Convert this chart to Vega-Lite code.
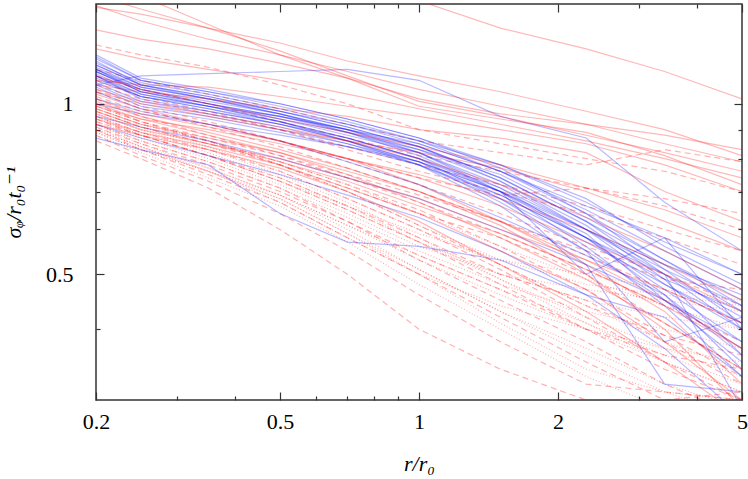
{
"$schema":"https://vega.github.io/schema/vega-lite/v6.json",
"width":646,"height":396,
"autosize":"none",
"padding":{"left":96,"top":4,"right":6,"bottom":79},
"background":"white",
"config":{"view":{"stroke":"#333333","strokeWidth":1.5},"font":"'Liberation Serif', 'DejaVu Serif', serif"},
"data":{"values":[
{"i":"b1","x":0.2,"y":1.17},{"i":"b1","x":0.25,"y":1.08},{"i":"b1","x":0.35,"y":1.03},{"i":"b1","x":0.5,"y":0.97},{"i":"b1","x":0.7,"y":0.91},{"i":"b1","x":1,"y":0.84},{"i":"b1","x":1.5,"y":0.74},{"i":"b1","x":2.3,"y":0.62},{"i":"b1","x":3.4,"y":0.52},{"i":"b1","x":5,"y":0.43},
{"i":"b2","x":0.2,"y":1.15},{"i":"b2","x":0.25,"y":1.05},{"i":"b2","x":0.35,"y":1.0},{"i":"b2","x":0.5,"y":0.95},{"i":"b2","x":0.7,"y":0.89},{"i":"b2","x":1,"y":0.82},{"i":"b2","x":1.5,"y":0.72},{"i":"b2","x":2.3,"y":0.6},{"i":"b2","x":3.4,"y":0.5},{"i":"b2","x":5,"y":0.4},
{"i":"b3","x":0.2,"y":1.2},{"i":"b3","x":0.25,"y":1.1},{"i":"b3","x":0.35,"y":1.05},{"i":"b3","x":0.5,"y":0.99},{"i":"b3","x":0.7,"y":0.93},{"i":"b3","x":1,"y":0.86},{"i":"b3","x":1.5,"y":0.76},{"i":"b3","x":2.3,"y":0.65},{"i":"b3","x":3.4,"y":0.55},{"i":"b3","x":5,"y":0.47},
{"i":"b4","x":0.2,"y":1.12},{"i":"b4","x":0.25,"y":1.02},{"i":"b4","x":0.35,"y":0.97},{"i":"b4","x":0.5,"y":0.92},{"i":"b4","x":0.7,"y":0.87},{"i":"b4","x":1,"y":0.8},{"i":"b4","x":1.5,"y":0.7},{"i":"b4","x":2.3,"y":0.58},{"i":"b4","x":3.4,"y":0.47},{"i":"b4","x":5,"y":0.38},
{"i":"b5","x":0.2,"y":1.08},{"i":"b5","x":0.25,"y":1.0},{"i":"b5","x":0.35,"y":0.96},{"i":"b5","x":0.5,"y":0.91},{"i":"b5","x":0.7,"y":0.85},{"i":"b5","x":1,"y":0.78},{"i":"b5","x":1.5,"y":0.68},{"i":"b5","x":2.3,"y":0.57},{"i":"b5","x":3.4,"y":0.48},{"i":"b5","x":5,"y":0.41},
{"i":"b6","x":0.2,"y":1.18},{"i":"b6","x":0.25,"y":1.09},{"i":"b6","x":0.35,"y":1.04},{"i":"b6","x":0.5,"y":0.98},{"i":"b6","x":0.7,"y":0.92},{"i":"b6","x":1,"y":0.85},{"i":"b6","x":1.5,"y":0.76},{"i":"b6","x":2.3,"y":0.64},{"i":"b6","x":3.4,"y":0.53},{"i":"b6","x":5,"y":0.45},
{"i":"b7","x":0.2,"y":1.14},{"i":"b7","x":0.25,"y":1.06},{"i":"b7","x":0.35,"y":1.01},{"i":"b7","x":0.5,"y":0.96},{"i":"b7","x":0.7,"y":0.9},{"i":"b7","x":1,"y":0.83},{"i":"b7","x":1.5,"y":0.73},{"i":"b7","x":2.3,"y":0.61},{"i":"b7","x":3.4,"y":0.49},{"i":"b7","x":5,"y":0.36},
{"i":"b8","x":0.2,"y":1.1},{"i":"b8","x":0.25,"y":1.03},{"i":"b8","x":0.35,"y":0.98},{"i":"b8","x":0.5,"y":0.93},{"i":"b8","x":0.7,"y":0.87},{"i":"b8","x":1,"y":0.8},{"i":"b8","x":1.5,"y":0.71},{"i":"b8","x":2.3,"y":0.6},{"i":"b8","x":3.4,"y":0.51},{"i":"b8","x":5,"y":0.44},
{"i":"b9","x":0.2,"y":1.16},{"i":"b9","x":0.25,"y":1.07},{"i":"b9","x":0.35,"y":1.02},{"i":"b9","x":0.5,"y":0.96},{"i":"b9","x":0.7,"y":0.9},{"i":"b9","x":1,"y":0.82},{"i":"b9","x":1.5,"y":0.71},{"i":"b9","x":2.3,"y":0.58},{"i":"b9","x":3.4,"y":0.46},{"i":"b9","x":5,"y":0.34},
{"i":"b10","x":0.2,"y":1.05},{"i":"b10","x":0.25,"y":0.98},{"i":"b10","x":0.35,"y":0.94},{"i":"b10","x":0.5,"y":0.89},{"i":"b10","x":0.7,"y":0.84},{"i":"b10","x":1,"y":0.78},{"i":"b10","x":1.5,"y":0.69},{"i":"b10","x":2.3,"y":0.58},{"i":"b10","x":3.4,"y":0.5},{"i":"b10","x":5,"y":0.42},
{"i":"b11","x":0.2,"y":1.08},{"i":"b11","x":0.25,"y":1.12},{"i":"b11","x":0.35,"y":1.13},{"i":"b11","x":0.5,"y":1.14},{"i":"b11","x":0.7,"y":1.15},{"i":"b11","x":1,"y":1.1},{"i":"b11","x":1.5,"y":0.95},{"i":"b11","x":2.3,"y":0.87},{"i":"b11","x":3.4,"y":0.67},{"i":"b11","x":5,"y":0.55},
{"i":"b12","x":0.2,"y":0.87},{"i":"b12","x":0.25,"y":0.83},{"i":"b12","x":0.35,"y":0.78},{"i":"b12","x":0.5,"y":0.64},{"i":"b12","x":0.7,"y":0.57},{"i":"b12","x":1,"y":0.56},{"i":"b12","x":1.5,"y":0.53},{"i":"b12","x":2.3,"y":0.46},{"i":"b12","x":3.4,"y":0.42},{"i":"b12","x":5,"y":0.33},
{"i":"b13","x":0.2,"y":1.12},{"i":"b13","x":0.25,"y":1.04},{"i":"b13","x":0.35,"y":0.99},{"i":"b13","x":0.5,"y":0.93},{"i":"b13","x":0.7,"y":0.86},{"i":"b13","x":1,"y":0.78},{"i":"b13","x":1.5,"y":0.66},{"i":"b13","x":2.3,"y":0.52},{"i":"b13","x":3.4,"y":0.32},{"i":"b13","x":5,"y":0.31},
{"i":"b14","x":0.2,"y":1.15},{"i":"b14","x":0.25,"y":1.06},{"i":"b14","x":0.35,"y":1.0},{"i":"b14","x":0.5,"y":0.94},{"i":"b14","x":0.7,"y":0.88},{"i":"b14","x":1,"y":0.82},{"i":"b14","x":1.5,"y":0.7},{"i":"b14","x":2.3,"y":0.5},{"i":"b14","x":3.4,"y":0.58},{"i":"b14","x":5,"y":0.4},
{"i":"b15","x":0.2,"y":1.09},{"i":"b15","x":0.25,"y":1.01},{"i":"b15","x":0.35,"y":0.97},{"i":"b15","x":0.5,"y":0.92},{"i":"b15","x":0.7,"y":0.86},{"i":"b15","x":1,"y":0.79},{"i":"b15","x":1.5,"y":0.67},{"i":"b15","x":2.3,"y":0.55},{"i":"b15","x":3.4,"y":0.38},{"i":"b15","x":5,"y":0.42},
{"i":"b16","x":0.2,"y":1.21},{"i":"b16","x":0.25,"y":1.1},{"i":"b16","x":0.35,"y":1.05},{"i":"b16","x":0.5,"y":1.0},{"i":"b16","x":0.7,"y":0.94},{"i":"b16","x":1,"y":0.87},{"i":"b16","x":1.5,"y":0.78},{"i":"b16","x":2.3,"y":0.67},{"i":"b16","x":3.4,"y":0.57},{"i":"b16","x":5,"y":0.5},
{"i":"b17","x":0.2,"y":1.14},{"i":"b17","x":0.25,"y":1.05},{"i":"b17","x":0.35,"y":0.99},{"i":"b17","x":0.5,"y":0.93},{"i":"b17","x":0.7,"y":0.87},{"i":"b17","x":1,"y":0.8},{"i":"b17","x":1.5,"y":0.68},{"i":"b17","x":2.3,"y":0.55},{"i":"b17","x":3.4,"y":0.45},{"i":"b17","x":5,"y":0.37},
{"i":"b18","x":0.2,"y":1.07},{"i":"b18","x":0.25,"y":0.99},{"i":"b18","x":0.35,"y":0.95},{"i":"b18","x":0.5,"y":0.9},{"i":"b18","x":0.7,"y":0.85},{"i":"b18","x":1,"y":0.79},{"i":"b18","x":1.5,"y":0.7},{"i":"b18","x":2.3,"y":0.6},{"i":"b18","x":3.4,"y":0.52},{"i":"b18","x":5,"y":0.46},
{"i":"b19","x":0.2,"y":1.17},{"i":"b19","x":0.25,"y":1.08},{"i":"b19","x":0.35,"y":1.03},{"i":"b19","x":0.5,"y":0.97},{"i":"b19","x":0.7,"y":0.91},{"i":"b19","x":1,"y":0.84},{"i":"b19","x":1.5,"y":0.73},{"i":"b19","x":2.3,"y":0.6},{"i":"b19","x":3.4,"y":0.48},{"i":"b19","x":5,"y":0.4},
{"i":"b20","x":0.2,"y":0.95},{"i":"b20","x":0.25,"y":0.91},{"i":"b20","x":0.35,"y":0.86},{"i":"b20","x":0.5,"y":0.8},{"i":"b20","x":0.7,"y":0.74},{"i":"b20","x":1,"y":0.68},{"i":"b20","x":1.5,"y":0.6},{"i":"b20","x":2.3,"y":0.52},{"i":"b20","x":3.4,"y":0.45},{"i":"b20","x":5,"y":0.38},
{"i":"b21","x":0.2,"y":1.13},{"i":"b21","x":0.25,"y":1.04},{"i":"b21","x":0.35,"y":0.99},{"i":"b21","x":0.5,"y":0.94},{"i":"b21","x":0.7,"y":0.89},{"i":"b21","x":1,"y":0.83},{"i":"b21","x":1.5,"y":0.75},{"i":"b21","x":2.3,"y":0.63},{"i":"b21","x":3.4,"y":0.53},{"i":"b21","x":5,"y":0.44},
{"i":"b22","x":0.2,"y":1.19},{"i":"b22","x":0.25,"y":1.08},{"i":"b22","x":0.35,"y":1.02},{"i":"b22","x":0.5,"y":0.96},{"i":"b22","x":0.7,"y":0.89},{"i":"b22","x":1,"y":0.81},{"i":"b22","x":1.5,"y":0.7},{"i":"b22","x":2.3,"y":0.56},{"i":"b22","x":3.4,"y":0.44},{"i":"b22","x":5,"y":0.33},
{"i":"b23","x":0.2,"y":1.02},{"i":"b23","x":0.25,"y":0.97},{"i":"b23","x":0.35,"y":0.92},{"i":"b23","x":0.5,"y":0.86},{"i":"b23","x":0.7,"y":0.79},{"i":"b23","x":1,"y":0.72},{"i":"b23","x":1.5,"y":0.63},{"i":"b23","x":2.3,"y":0.54},{"i":"b23","x":3.4,"y":0.46},{"i":"b23","x":5,"y":0.36},
{"i":"b24","x":0.2,"y":1.11},{"i":"b24","x":0.25,"y":1.03},{"i":"b24","x":0.35,"y":0.99},{"i":"b24","x":0.5,"y":0.95},{"i":"b24","x":0.7,"y":0.9},{"i":"b24","x":1,"y":0.85},{"i":"b24","x":1.5,"y":0.76},{"i":"b24","x":2.3,"y":0.66},{"i":"b24","x":3.4,"y":0.58},{"i":"b24","x":5,"y":0.5},
{"i":"b25","x":0.2,"y":0.92},{"i":"b25","x":0.25,"y":0.87},{"i":"b25","x":0.35,"y":0.81},{"i":"b25","x":0.5,"y":0.75},{"i":"b25","x":0.7,"y":0.69},{"i":"b25","x":1,"y":0.63},{"i":"b25","x":1.5,"y":0.55},{"i":"b25","x":2.3,"y":0.46},{"i":"b25","x":3.4,"y":0.37},{"i":"b25","x":5,"y":0.28},
{"i":"b26","x":0.2,"y":1.14},{"i":"b26","x":0.25,"y":1.05},{"i":"b26","x":0.35,"y":1.0},{"i":"b26","x":0.5,"y":0.95},{"i":"b26","x":0.7,"y":0.9},{"i":"b26","x":1,"y":0.84},{"i":"b26","x":1.5,"y":0.74},{"i":"b26","x":2.3,"y":0.62},{"i":"b26","x":3.4,"y":0.5},{"i":"b26","x":5,"y":0.29},
{"i":"b27","x":0.2,"y":1.0},{"i":"b27","x":0.25,"y":0.96},{"i":"b27","x":0.35,"y":0.92},{"i":"b27","x":0.5,"y":0.88},{"i":"b27","x":0.7,"y":0.84},{"i":"b27","x":1,"y":0.79},{"i":"b27","x":1.5,"y":0.7},{"i":"b27","x":2.3,"y":0.59},{"i":"b27","x":3.4,"y":0.45},{"i":"b27","x":5,"y":0.35},
{"i":"b28","x":0.2,"y":1.15},{"i":"b28","x":0.25,"y":1.07},{"i":"b28","x":0.35,"y":1.02},{"i":"b28","x":0.5,"y":0.97},{"i":"b28","x":0.7,"y":0.92},{"i":"b28","x":1,"y":0.86},{"i":"b28","x":1.5,"y":0.78},{"i":"b28","x":2.3,"y":0.68},{"i":"b28","x":3.4,"y":0.56},{"i":"b28","x":5,"y":0.48},
{"i":"b29","x":0.2,"y":1.22},{"i":"b29","x":0.25,"y":1.11},{"i":"b29","x":0.35,"y":1.06},{"i":"b29","x":0.5,"y":1.0},{"i":"b29","x":0.7,"y":0.94},{"i":"b29","x":1,"y":0.87},{"i":"b29","x":1.5,"y":0.77},{"i":"b29","x":2.3,"y":0.64},{"i":"b29","x":3.4,"y":0.51},{"i":"b29","x":5,"y":0.41},
{"i":"b30","x":0.2,"y":1.12},{"i":"b30","x":0.25,"y":1.03},{"i":"b30","x":0.35,"y":0.98},{"i":"b30","x":0.5,"y":0.92},{"i":"b30","x":0.7,"y":0.86},{"i":"b30","x":1,"y":0.79},{"i":"b30","x":1.5,"y":0.69},{"i":"b30","x":2.3,"y":0.58},{"i":"b30","x":3.4,"y":0.49},{"i":"b30","x":5,"y":0.43},
{"i":"r1","x":0.2,"y":2.3},{"i":"r1","x":0.25,"y":2.1},{"i":"r1","x":0.35,"y":1.9},{"i":"r1","x":0.5,"y":1.75},{"i":"r1","x":0.7,"y":1.62},{"i":"r1","x":1,"y":1.52},{"i":"r1","x":1.5,"y":1.36},{"i":"r1","x":2.3,"y":1.25},{"i":"r1","x":3.4,"y":1.14},{"i":"r1","x":5,"y":1.02},
{"i":"r2","x":0.2,"y":1.48},{"i":"r2","x":0.25,"y":1.44},{"i":"r2","x":0.35,"y":1.36},{"i":"r2","x":0.5,"y":1.28},{"i":"r2","x":0.7,"y":1.19},{"i":"r2","x":1,"y":1.12},{"i":"r2","x":1.5,"y":1.05},{"i":"r2","x":2.3,"y":0.97},{"i":"r2","x":3.4,"y":0.9},{"i":"r2","x":5,"y":0.81},
{"i":"r3","x":0.2,"y":1.7},{"i":"r3","x":0.25,"y":1.55},{"i":"r3","x":0.35,"y":1.38},{"i":"r3","x":0.5,"y":1.22},{"i":"r3","x":0.7,"y":1.11},{"i":"r3","x":1,"y":0.99},{"i":"r3","x":1.5,"y":0.94},{"i":"r3","x":2.3,"y":0.89},{"i":"r3","x":3.4,"y":0.81},{"i":"r3","x":5,"y":0.72},
{"i":"r4","x":0.2,"y":1.55},{"i":"r4","x":0.25,"y":1.47},{"i":"r4","x":0.35,"y":1.36},{"i":"r4","x":0.5,"y":1.24},{"i":"r4","x":0.7,"y":1.12},{"i":"r4","x":1,"y":1.01},{"i":"r4","x":1.5,"y":0.95},{"i":"r4","x":2.3,"y":0.88},{"i":"r4","x":3.4,"y":0.82},{"i":"r4","x":5,"y":0.76},
{"i":"r5","x":0.2,"y":1.49},{"i":"r5","x":0.25,"y":1.4},{"i":"r5","x":0.35,"y":1.3},{"i":"r5","x":0.5,"y":1.22},{"i":"r5","x":0.7,"y":1.14},{"i":"r5","x":1,"y":1.06},{"i":"r5","x":1.5,"y":0.99},{"i":"r5","x":2.3,"y":0.92},{"i":"r5","x":3.4,"y":0.85},{"i":"r5","x":5,"y":0.79},
{"i":"r6","x":0.2,"y":1.35},{"i":"r6","x":0.25,"y":1.3},{"i":"r6","x":0.35,"y":1.25},{"i":"r6","x":0.5,"y":1.18},{"i":"r6","x":0.7,"y":1.11},{"i":"r6","x":1,"y":1.02},{"i":"r6","x":1.5,"y":0.96},{"i":"r6","x":2.3,"y":0.92},{"i":"r6","x":3.4,"y":0.88},{"i":"r6","x":5,"y":0.83},
{"i":"r7","x":0.2,"y":1.1},{"i":"r7","x":0.25,"y":1.08},{"i":"r7","x":0.35,"y":1.07},{"i":"r7","x":0.5,"y":1.03},{"i":"r7","x":0.7,"y":0.99},{"i":"r7","x":1,"y":0.95},{"i":"r7","x":1.5,"y":0.9},{"i":"r7","x":2.3,"y":0.85},{"i":"r7","x":3.4,"y":0.78},{"i":"r7","x":5,"y":0.7},
{"i":"r8","x":0.2,"y":1.08},{"i":"r8","x":0.25,"y":1.05},{"i":"r8","x":0.35,"y":1.02},{"i":"r8","x":0.5,"y":0.98},{"i":"r8","x":0.7,"y":0.95},{"i":"r8","x":1,"y":0.9},{"i":"r8","x":1.5,"y":0.87},{"i":"r8","x":2.3,"y":0.82},{"i":"r8","x":3.4,"y":0.7},{"i":"r8","x":5,"y":0.62},
{"i":"r9","x":0.2,"y":1.05},{"i":"r9","x":0.25,"y":1.0},{"i":"r9","x":0.35,"y":0.95},{"i":"r9","x":0.5,"y":0.9},{"i":"r9","x":0.7,"y":0.86},{"i":"r9","x":1,"y":0.82},{"i":"r9","x":1.5,"y":0.77},{"i":"r9","x":2.3,"y":0.7},{"i":"r9","x":3.4,"y":0.62},{"i":"r9","x":5,"y":0.55},
{"i":"r10","x":0.2,"y":1.02},{"i":"r10","x":0.25,"y":0.96},{"i":"r10","x":0.35,"y":0.91},{"i":"r10","x":0.5,"y":0.86},{"i":"r10","x":0.7,"y":0.8},{"i":"r10","x":1,"y":0.74},{"i":"r10","x":1.5,"y":0.66},{"i":"r10","x":2.3,"y":0.57},{"i":"r10","x":3.4,"y":0.5},{"i":"r10","x":5,"y":0.43},
{"i":"r11","x":0.2,"y":0.98},{"i":"r11","x":0.25,"y":0.92},{"i":"r11","x":0.35,"y":0.87},{"i":"r11","x":0.5,"y":0.82},{"i":"r11","x":0.7,"y":0.76},{"i":"r11","x":1,"y":0.7},{"i":"r11","x":1.5,"y":0.62},{"i":"r11","x":2.3,"y":0.53},{"i":"r11","x":3.4,"y":0.45},{"i":"r11","x":5,"y":0.37},
{"i":"r12","x":0.2,"y":1.0},{"i":"r12","x":0.25,"y":0.94},{"i":"r12","x":0.35,"y":0.88},{"i":"r12","x":0.5,"y":0.82},{"i":"r12","x":0.7,"y":0.75},{"i":"r12","x":1,"y":0.67},{"i":"r12","x":1.5,"y":0.58},{"i":"r12","x":2.3,"y":0.49},{"i":"r12","x":3.4,"y":0.41},{"i":"r12","x":5,"y":0.34},
{"i":"r13","x":0.2,"y":0.96},{"i":"r13","x":0.25,"y":0.9},{"i":"r13","x":0.35,"y":0.85},{"i":"r13","x":0.5,"y":0.79},{"i":"r13","x":0.7,"y":0.73},{"i":"r13","x":1,"y":0.66},{"i":"r13","x":1.5,"y":0.59},{"i":"r13","x":2.3,"y":0.51},{"i":"r13","x":3.4,"y":0.44},{"i":"r13","x":5,"y":0.37},
{"i":"r14","x":0.2,"y":1.04},{"i":"r14","x":0.25,"y":0.98},{"i":"r14","x":0.35,"y":0.92},{"i":"r14","x":0.5,"y":0.86},{"i":"r14","x":0.7,"y":0.8},{"i":"r14","x":1,"y":0.72},{"i":"r14","x":1.5,"y":0.62},{"i":"r14","x":2.3,"y":0.52},{"i":"r14","x":3.4,"y":0.43},{"i":"r14","x":5,"y":0.32},
{"i":"r15","x":0.2,"y":0.94},{"i":"r15","x":0.25,"y":0.89},{"i":"r15","x":0.35,"y":0.84},{"i":"r15","x":0.5,"y":0.78},{"i":"r15","x":0.7,"y":0.71},{"i":"r15","x":1,"y":0.64},{"i":"r15","x":1.5,"y":0.55},{"i":"r15","x":2.3,"y":0.47},{"i":"r15","x":3.4,"y":0.38},{"i":"r15","x":5,"y":0.3},
{"i":"r16","x":0.2,"y":1.06},{"i":"r16","x":0.25,"y":1.01},{"i":"r16","x":0.35,"y":0.96},{"i":"r16","x":0.5,"y":0.91},{"i":"r16","x":0.7,"y":0.86},{"i":"r16","x":1,"y":0.8},{"i":"r16","x":1.5,"y":0.72},{"i":"r16","x":2.3,"y":0.63},{"i":"r16","x":3.4,"y":0.55},{"i":"r16","x":5,"y":0.47},
{"i":"r17","x":0.2,"y":0.92},{"i":"r17","x":0.25,"y":0.88},{"i":"r17","x":0.35,"y":0.83},{"i":"r17","x":0.5,"y":0.77},{"i":"r17","x":0.7,"y":0.7},{"i":"r17","x":1,"y":0.62},{"i":"r17","x":1.5,"y":0.52},{"i":"r17","x":2.3,"y":0.43},{"i":"r17","x":3.4,"y":0.35},{"i":"r17","x":5,"y":0.28},
{"i":"r18","x":0.2,"y":1.12},{"i":"r18","x":0.25,"y":1.06},{"i":"r18","x":0.35,"y":1.0},{"i":"r18","x":0.5,"y":0.94},{"i":"r18","x":0.7,"y":0.89},{"i":"r18","x":1,"y":0.84},{"i":"r18","x":1.5,"y":0.78},{"i":"r18","x":2.3,"y":0.71},{"i":"r18","x":3.4,"y":0.65},{"i":"r18","x":5,"y":0.58},
{"i":"r19","x":0.2,"y":0.99},{"i":"r19","x":0.25,"y":0.94},{"i":"r19","x":0.35,"y":0.9},{"i":"r19","x":0.5,"y":0.85},{"i":"r19","x":0.7,"y":0.8},{"i":"r19","x":1,"y":0.75},{"i":"r19","x":1.5,"y":0.68},{"i":"r19","x":2.3,"y":0.6},{"i":"r19","x":3.4,"y":0.52},{"i":"r19","x":5,"y":0.45},
{"i":"r20","x":0.2,"y":1.01},{"i":"r20","x":0.25,"y":0.95},{"i":"r20","x":0.35,"y":0.89},{"i":"r20","x":0.5,"y":0.83},{"i":"r20","x":0.7,"y":0.77},{"i":"r20","x":1,"y":0.7},{"i":"r20","x":1.5,"y":0.61},{"i":"r20","x":2.3,"y":0.5},{"i":"r20","x":3.4,"y":0.4},{"i":"r20","x":5,"y":0.29},
{"i":"r21","x":0.2,"y":1.25},{"i":"r21","x":0.25,"y":1.2},{"i":"r21","x":0.35,"y":1.15},{"i":"r21","x":0.5,"y":1.1},{"i":"r21","x":0.7,"y":1.04},{"i":"r21","x":1,"y":0.98},{"i":"r21","x":1.5,"y":0.92},{"i":"r21","x":2.3,"y":0.86},{"i":"r21","x":3.4,"y":0.8},{"i":"r21","x":5,"y":0.74},
{"i":"r22","x":0.2,"y":0.97},{"i":"r22","x":0.25,"y":0.91},{"i":"r22","x":0.35,"y":0.85},{"i":"r22","x":0.5,"y":0.8},{"i":"r22","x":0.7,"y":0.74},{"i":"r22","x":1,"y":0.68},{"i":"r22","x":1.5,"y":0.6},{"i":"r22","x":2.3,"y":0.53},{"i":"r22","x":3.4,"y":0.47},{"i":"r22","x":5,"y":0.41},
{"i":"d1","x":0.2,"y":1.27},{"i":"d1","x":0.25,"y":1.22},{"i":"d1","x":0.35,"y":1.16},{"i":"d1","x":0.5,"y":1.08},{"i":"d1","x":0.7,"y":1.0},{"i":"d1","x":1,"y":0.9},{"i":"d1","x":1.5,"y":0.85},{"i":"d1","x":2.3,"y":0.8},{"i":"d1","x":3.4,"y":0.76},{"i":"d1","x":5,"y":0.7},
{"i":"d2","x":0.2,"y":1.15},{"i":"d2","x":0.25,"y":1.1},{"i":"d2","x":0.35,"y":1.04},{"i":"d2","x":0.5,"y":0.98},{"i":"d2","x":0.7,"y":0.92},{"i":"d2","x":1,"y":0.86},{"i":"d2","x":1.5,"y":0.82},{"i":"d2","x":2.3,"y":0.78},{"i":"d2","x":3.4,"y":0.83},{"i":"d2","x":5,"y":0.79},
{"i":"d3","x":0.2,"y":1.1},{"i":"d3","x":0.25,"y":1.03},{"i":"d3","x":0.35,"y":0.97},{"i":"d3","x":0.5,"y":0.9},{"i":"d3","x":0.7,"y":0.84},{"i":"d3","x":1,"y":0.78},{"i":"d3","x":1.5,"y":0.72},{"i":"d3","x":2.3,"y":0.66},{"i":"d3","x":3.4,"y":0.6},{"i":"d3","x":5,"y":0.55},
{"i":"d4","x":0.2,"y":1.05},{"i":"d4","x":0.25,"y":0.98},{"i":"d4","x":0.35,"y":0.91},{"i":"d4","x":0.5,"y":0.84},{"i":"d4","x":0.7,"y":0.77},{"i":"d4","x":1,"y":0.7},{"i":"d4","x":1.5,"y":0.62},{"i":"d4","x":2.3,"y":0.54},{"i":"d4","x":3.4,"y":0.47},{"i":"d4","x":5,"y":0.41},
{"i":"d5","x":0.2,"y":1.02},{"i":"d5","x":0.25,"y":0.95},{"i":"d5","x":0.35,"y":0.88},{"i":"d5","x":0.5,"y":0.81},{"i":"d5","x":0.7,"y":0.74},{"i":"d5","x":1,"y":0.67},{"i":"d5","x":1.5,"y":0.59},{"i":"d5","x":2.3,"y":0.51},{"i":"d5","x":3.4,"y":0.44},{"i":"d5","x":5,"y":0.38},
{"i":"d6","x":0.2,"y":0.98},{"i":"d6","x":0.25,"y":0.92},{"i":"d6","x":0.35,"y":0.86},{"i":"d6","x":0.5,"y":0.79},{"i":"d6","x":0.7,"y":0.72},{"i":"d6","x":1,"y":0.65},{"i":"d6","x":1.5,"y":0.56},{"i":"d6","x":2.3,"y":0.47},{"i":"d6","x":3.4,"y":0.39},{"i":"d6","x":5,"y":0.33},
{"i":"d7","x":0.2,"y":0.95},{"i":"d7","x":0.25,"y":0.89},{"i":"d7","x":0.35,"y":0.83},{"i":"d7","x":0.5,"y":0.76},{"i":"d7","x":0.7,"y":0.68},{"i":"d7","x":1,"y":0.6},{"i":"d7","x":1.5,"y":0.51},{"i":"d7","x":2.3,"y":0.42},{"i":"d7","x":3.4,"y":0.35},{"i":"d7","x":5,"y":0.3},
{"i":"d8","x":0.2,"y":0.93},{"i":"d8","x":0.25,"y":0.88},{"i":"d8","x":0.35,"y":0.81},{"i":"d8","x":0.5,"y":0.73},{"i":"d8","x":0.7,"y":0.65},{"i":"d8","x":1,"y":0.57},{"i":"d8","x":1.5,"y":0.48},{"i":"d8","x":2.3,"y":0.4},{"i":"d8","x":3.4,"y":0.34},{"i":"d8","x":5,"y":0.3},
{"i":"d9","x":0.2,"y":1.0},{"i":"d9","x":0.25,"y":0.93},{"i":"d9","x":0.35,"y":0.86},{"i":"d9","x":0.5,"y":0.78},{"i":"d9","x":0.7,"y":0.7},{"i":"d9","x":1,"y":0.61},{"i":"d9","x":1.5,"y":0.52},{"i":"d9","x":2.3,"y":0.44},{"i":"d9","x":3.4,"y":0.39},{"i":"d9","x":5,"y":0.36},
{"i":"d10","x":0.2,"y":0.92},{"i":"d10","x":0.25,"y":0.86},{"i":"d10","x":0.35,"y":0.79},{"i":"d10","x":0.5,"y":0.71},{"i":"d10","x":0.7,"y":0.62},{"i":"d10","x":1,"y":0.53},{"i":"d10","x":1.5,"y":0.45},{"i":"d10","x":2.3,"y":0.38},{"i":"d10","x":3.4,"y":0.32},{"i":"d10","x":5,"y":0.28},
{"i":"d11","x":0.2,"y":0.9},{"i":"d11","x":0.25,"y":0.83},{"i":"d11","x":0.35,"y":0.75},{"i":"d11","x":0.5,"y":0.67},{"i":"d11","x":0.7,"y":0.58},{"i":"d11","x":1,"y":0.5},{"i":"d11","x":1.5,"y":0.42},{"i":"d11","x":2.3,"y":0.35},{"i":"d11","x":3.4,"y":0.3},{"i":"d11","x":5,"y":0.31},
{"i":"d12","x":0.2,"y":0.88},{"i":"d12","x":0.25,"y":0.81},{"i":"d12","x":0.35,"y":0.73},{"i":"d12","x":0.5,"y":0.64},{"i":"d12","x":0.7,"y":0.55},{"i":"d12","x":1,"y":0.46},{"i":"d12","x":1.5,"y":0.38},{"i":"d12","x":2.3,"y":0.32},{"i":"d12","x":3.4,"y":0.31},{"i":"d12","x":5,"y":0.3},
{"i":"d13","x":0.2,"y":0.86},{"i":"d13","x":0.25,"y":0.8},{"i":"d13","x":0.35,"y":0.71},{"i":"d13","x":0.5,"y":0.6},{"i":"d13","x":0.7,"y":0.5},{"i":"d13","x":1,"y":0.4},{"i":"d13","x":1.5,"y":0.34},{"i":"d13","x":2.3,"y":0.3},{"i":"d13","x":3.4,"y":0.28},{"i":"d13","x":5,"y":0.27},
{"i":"d14","x":0.2,"y":1.08},{"i":"d14","x":0.25,"y":1.02},{"i":"d14","x":0.35,"y":0.96},{"i":"d14","x":0.5,"y":0.9},{"i":"d14","x":0.7,"y":0.83},{"i":"d14","x":1,"y":0.76},{"i":"d14","x":1.5,"y":0.7},{"i":"d14","x":2.3,"y":0.64},{"i":"d14","x":3.4,"y":0.58},{"i":"d14","x":5,"y":0.52},
{"i":"d15","x":0.2,"y":1.03},{"i":"d15","x":0.25,"y":0.97},{"i":"d15","x":0.35,"y":0.92},{"i":"d15","x":0.5,"y":0.86},{"i":"d15","x":0.7,"y":0.8},{"i":"d15","x":1,"y":0.74},{"i":"d15","x":1.5,"y":0.69},{"i":"d15","x":2.3,"y":0.71},{"i":"d15","x":3.4,"y":0.66},{"i":"d15","x":5,"y":0.6},
{"i":"d16","x":0.2,"y":0.97},{"i":"d16","x":0.25,"y":0.91},{"i":"d16","x":0.35,"y":0.85},{"i":"d16","x":0.5,"y":0.78},{"i":"d16","x":0.7,"y":0.71},{"i":"d16","x":1,"y":0.64},{"i":"d16","x":1.5,"y":0.58},{"i":"d16","x":2.3,"y":0.5},{"i":"d16","x":3.4,"y":0.41},{"i":"d16","x":5,"y":0.34},
{"i":"d17","x":0.2,"y":1.12},{"i":"d17","x":0.25,"y":1.06},{"i":"d17","x":0.35,"y":1.0},{"i":"d17","x":0.5,"y":0.93},{"i":"d17","x":0.7,"y":0.87},{"i":"d17","x":1,"y":0.81},{"i":"d17","x":1.5,"y":0.76},{"i":"d17","x":2.3,"y":0.71},{"i":"d17","x":3.4,"y":0.68},{"i":"d17","x":5,"y":0.64},
{"i":"d18","x":0.2,"y":0.94},{"i":"d18","x":0.25,"y":0.88},{"i":"d18","x":0.35,"y":0.81},{"i":"d18","x":0.5,"y":0.74},{"i":"d18","x":0.7,"y":0.66},{"i":"d18","x":1,"y":0.58},{"i":"d18","x":1.5,"y":0.5},{"i":"d18","x":2.3,"y":0.45},{"i":"d18","x":3.4,"y":0.38},{"i":"d18","x":5,"y":0.32},
{"i":"d19","x":0.2,"y":1.06},{"i":"d19","x":0.25,"y":0.99},{"i":"d19","x":0.35,"y":0.93},{"i":"d19","x":0.5,"y":0.86},{"i":"d19","x":0.7,"y":0.79},{"i":"d19","x":1,"y":0.72},{"i":"d19","x":1.5,"y":0.64},{"i":"d19","x":2.3,"y":0.56},{"i":"d19","x":3.4,"y":0.5},{"i":"d19","x":5,"y":0.44},
{"i":"d20","x":0.2,"y":0.99},{"i":"d20","x":0.25,"y":0.93},{"i":"d20","x":0.35,"y":0.87},{"i":"d20","x":0.5,"y":0.81},{"i":"d20","x":0.7,"y":0.75},{"i":"d20","x":1,"y":0.69},{"i":"d20","x":1.5,"y":0.62},{"i":"d20","x":2.3,"y":0.55},{"i":"d20","x":3.4,"y":0.49},{"i":"d20","x":5,"y":0.47},
{"i":"d21","x":0.2,"y":0.91},{"i":"d21","x":0.25,"y":0.85},{"i":"d21","x":0.35,"y":0.78},{"i":"d21","x":0.5,"y":0.7},{"i":"d21","x":0.7,"y":0.62},{"i":"d21","x":1,"y":0.54},{"i":"d21","x":1.5,"y":0.47},{"i":"d21","x":2.3,"y":0.4},{"i":"d21","x":3.4,"y":0.36},{"i":"d21","x":5,"y":0.34},
{"i":"t1","x":0.2,"y":0.98},{"i":"t1","x":0.25,"y":0.92},{"i":"t1","x":0.35,"y":0.86},{"i":"t1","x":0.5,"y":0.78},{"i":"t1","x":0.7,"y":0.7},{"i":"t1","x":1,"y":0.61},{"i":"t1","x":1.5,"y":0.53},{"i":"t1","x":2.3,"y":0.48},{"i":"t1","x":3.4,"y":0.46},{"i":"t1","x":5,"y":0.44},
{"i":"t2","x":0.2,"y":0.95},{"i":"t2","x":0.25,"y":0.89},{"i":"t2","x":0.35,"y":0.82},{"i":"t2","x":0.5,"y":0.74},{"i":"t2","x":0.7,"y":0.66},{"i":"t2","x":1,"y":0.57},{"i":"t2","x":1.5,"y":0.5},{"i":"t2","x":2.3,"y":0.45},{"i":"t2","x":3.4,"y":0.42},{"i":"t2","x":5,"y":0.4},
{"i":"t3","x":0.2,"y":0.92},{"i":"t3","x":0.25,"y":0.86},{"i":"t3","x":0.35,"y":0.79},{"i":"t3","x":0.5,"y":0.71},{"i":"t3","x":0.7,"y":0.63},{"i":"t3","x":1,"y":0.55},{"i":"t3","x":1.5,"y":0.48},{"i":"t3","x":2.3,"y":0.43},{"i":"t3","x":3.4,"y":0.4},{"i":"t3","x":5,"y":0.37},
{"i":"t4","x":0.2,"y":0.96},{"i":"t4","x":0.25,"y":0.9},{"i":"t4","x":0.35,"y":0.83},{"i":"t4","x":0.5,"y":0.75},{"i":"t4","x":0.7,"y":0.67},{"i":"t4","x":1,"y":0.58},{"i":"t4","x":1.5,"y":0.49},{"i":"t4","x":2.3,"y":0.41},{"i":"t4","x":3.4,"y":0.35},{"i":"t4","x":5,"y":0.31},
{"i":"t5","x":0.2,"y":0.9},{"i":"t5","x":0.25,"y":0.84},{"i":"t5","x":0.35,"y":0.76},{"i":"t5","x":0.5,"y":0.68},{"i":"t5","x":0.7,"y":0.59},{"i":"t5","x":1,"y":0.51},{"i":"t5","x":1.5,"y":0.43},{"i":"t5","x":2.3,"y":0.37},{"i":"t5","x":3.4,"y":0.32},{"i":"t5","x":5,"y":0.29},
{"i":"t6","x":0.2,"y":0.9},{"i":"t6","x":0.25,"y":0.84},{"i":"t6","x":0.35,"y":0.77},{"i":"t6","x":0.5,"y":0.69},{"i":"t6","x":0.7,"y":0.6},{"i":"t6","x":1,"y":0.51},{"i":"t6","x":1.5,"y":0.43},{"i":"t6","x":2.3,"y":0.36},{"i":"t6","x":3.4,"y":0.31},{"i":"t6","x":5,"y":0.28},
{"i":"t7","x":0.2,"y":0.93},{"i":"t7","x":0.25,"y":0.87},{"i":"t7","x":0.35,"y":0.8},{"i":"t7","x":0.5,"y":0.72},{"i":"t7","x":0.7,"y":0.64},{"i":"t7","x":1,"y":0.56},{"i":"t7","x":1.5,"y":0.5},{"i":"t7","x":2.3,"y":0.47},{"i":"t7","x":3.4,"y":0.45},{"i":"t7","x":5,"y":0.43},
{"i":"t8","x":0.2,"y":0.88},{"i":"t8","x":0.25,"y":0.82},{"i":"t8","x":0.35,"y":0.74},{"i":"t8","x":0.5,"y":0.66},{"i":"t8","x":0.7,"y":0.57},{"i":"t8","x":1,"y":0.48},{"i":"t8","x":1.5,"y":0.4},{"i":"t8","x":2.3,"y":0.33},{"i":"t8","x":3.4,"y":0.29},{"i":"t8","x":5,"y":0.27},
{"i":"t9","x":0.2,"y":0.97},{"i":"t9","x":0.25,"y":0.91},{"i":"t9","x":0.35,"y":0.84},{"i":"t9","x":0.5,"y":0.76},{"i":"t9","x":0.7,"y":0.68},{"i":"t9","x":1,"y":0.6},{"i":"t9","x":1.5,"y":0.52},{"i":"t9","x":2.3,"y":0.44},{"i":"t9","x":3.4,"y":0.38},{"i":"t9","x":5,"y":0.34},
{"i":"t10","x":0.2,"y":0.91},{"i":"t10","x":0.25,"y":0.84},{"i":"t10","x":0.35,"y":0.76},{"i":"t10","x":0.5,"y":0.67},{"i":"t10","x":0.7,"y":0.58},{"i":"t10","x":1,"y":0.5},{"i":"t10","x":1.5,"y":0.44},{"i":"t10","x":2.3,"y":0.4},{"i":"t10","x":3.4,"y":0.37},{"i":"t10","x":5,"y":0.35},
{"i":"t11","x":0.2,"y":0.94},{"i":"t11","x":0.25,"y":0.88},{"i":"t11","x":0.35,"y":0.81},{"i":"t11","x":0.5,"y":0.73},{"i":"t11","x":0.7,"y":0.65},{"i":"t11","x":1,"y":0.57},{"i":"t11","x":1.5,"y":0.49},{"i":"t11","x":2.3,"y":0.42},{"i":"t11","x":3.4,"y":0.37},{"i":"t11","x":5,"y":0.33},
{"i":"t12","x":0.2,"y":0.89},{"i":"t12","x":0.25,"y":0.83},{"i":"t12","x":0.35,"y":0.76},{"i":"t12","x":0.5,"y":0.69},{"i":"t12","x":0.7,"y":0.61},{"i":"t12","x":1,"y":0.54},{"i":"t12","x":1.5,"y":0.47},{"i":"t12","x":2.3,"y":0.41},{"i":"t12","x":3.4,"y":0.36},{"i":"t12","x":5,"y":0.32},
{"i":"t13","x":0.2,"y":0.99},{"i":"t13","x":0.25,"y":0.93},{"i":"t13","x":0.35,"y":0.86},{"i":"t13","x":0.5,"y":0.79},{"i":"t13","x":0.7,"y":0.72},{"i":"t13","x":1,"y":0.64},{"i":"t13","x":1.5,"y":0.56},{"i":"t13","x":2.3,"y":0.49},{"i":"t13","x":3.4,"y":0.44},{"i":"t13","x":5,"y":0.4},
{"i":"t14","x":0.2,"y":0.89},{"i":"t14","x":0.25,"y":0.83},{"i":"t14","x":0.35,"y":0.76},{"i":"t14","x":0.5,"y":0.68},{"i":"t14","x":0.7,"y":0.59},{"i":"t14","x":1,"y":0.5},{"i":"t14","x":1.5,"y":0.41},{"i":"t14","x":2.3,"y":0.34},{"i":"t14","x":3.4,"y":0.31},{"i":"t14","x":5,"y":0.3},
{"i":"t15","x":0.2,"y":0.95},{"i":"t15","x":0.25,"y":0.88},{"i":"t15","x":0.35,"y":0.81},{"i":"t15","x":0.5,"y":0.73},{"i":"t15","x":0.7,"y":0.66},{"i":"t15","x":1,"y":0.59},{"i":"t15","x":1.5,"y":0.53},{"i":"t15","x":2.3,"y":0.5},{"i":"t15","x":3.4,"y":0.47},{"i":"t15","x":5,"y":0.45},
{"i":"t16","x":0.2,"y":0.92},{"i":"t16","x":0.25,"y":0.85},{"i":"t16","x":0.35,"y":0.77},{"i":"t16","x":0.5,"y":0.69},{"i":"t16","x":0.7,"y":0.61},{"i":"t16","x":1,"y":0.53},{"i":"t16","x":1.5,"y":0.46},{"i":"t16","x":2.3,"y":0.4},{"i":"t16","x":3.4,"y":0.35},{"i":"t16","x":5,"y":0.31}
]},
"encoding":{
"x":{"field":"x","type":"quantitative","scale":{"type":"log","domain":[0.2,5],"nice":false},"axis":null},
"y":{"field":"y","type":"quantitative","scale":{"type":"log","domain":[0.3,1.5],"nice":false},"axis":null},
"detail":{"field":"i"}
},
"resolve":{"axis":{"x":"independent","y":"independent"}},
"layer":[
{"transform":[{"filter":"indexof(datum.i,'t')==0"}],
 "mark":{"type":"line","clip":true,"stroke":"#ff0000","strokeOpacity":0.3,"strokeWidth":1.2,"strokeDash":[1,2]},
 "encoding":{
  "x":{"field":"x","type":"quantitative","scale":{"type":"log","domain":[0.2,5],"nice":false},
   "axis":{"orient":"bottom","values":[0.2,0.3,0.4,0.5,0.6,0.7,0.8,0.9,1,2,3,4,5],"labelExpr":"indexof([0.2,0.5,1,2,5],datum.value)>=0 ? format(datum.value,'~g') : ''","tickSize":{"condition":{"test":"indexof([0.2,0.5,1,2,5],datum.value)>=0","value":-8},"value":-4},"tickColor":"#333333","tickWidth":1.2,"domain":false,"grid":false,"labelFont":"'Liberation Serif', 'DejaVu Serif', serif","labelFontSize":22,"labelColor":"#000000","labelPadding":19,"labelOverlap":false,"labelFlush":false,"title":"r/r₀","titleFont":"'Liberation Serif', 'DejaVu Serif', serif","titleFontSize":22,"titleFontStyle":"italic","titleFontWeight":"normal","titleColor":"#000000","titlePadding":17}},
  "y":{"field":"y","type":"quantitative","scale":{"type":"log","domain":[0.3,1.5],"nice":false},
   "axis":{"orient":"left","values":[0.4,0.5,0.6,0.7,0.8,0.9,1],"labelExpr":"indexof([0.5,1],datum.value)>=0 ? format(datum.value,'~g') : ''","tickSize":{"condition":{"test":"indexof([0.5,1],datum.value)>=0","value":-8},"value":-4},"tickColor":"#333333","tickWidth":1.2,"domain":false,"grid":false,"labelFont":"'Liberation Serif', 'DejaVu Serif', serif","labelFontSize":22,"labelColor":"#000000","labelPadding":31,"labelOverlap":false,"labelFlush":false,"title":"σᵩ/r₀t₀⁻¹","titleFont":"'Liberation Serif', 'DejaVu Serif', serif","titleFontSize":22,"titleFontStyle":"italic","titleFontWeight":"normal","titleColor":"#000000","titlePadding":20}}
 }},
{"transform":[{"filter":"indexof(datum.i,'d')==0"}],
 "mark":{"type":"line","clip":true,"stroke":"#ff0000","strokeOpacity":0.3,"strokeWidth":1.2,"strokeDash":[6,4]},
 "encoding":{
  "x":{"field":"x","type":"quantitative","scale":{"type":"log","domain":[0.2,5],"nice":false},
   "axis":{"orient":"top","values":[0.2,0.3,0.4,0.5,0.6,0.7,0.8,0.9,1,2,3,4,5],"labels":false,"tickSize":{"condition":{"test":"indexof([0.2,0.5,1,2,5],datum.value)>=0","value":-8},"value":-4},"tickColor":"#333333","tickWidth":1.2,"domain":false,"grid":false,"title":null}},
  "y":{"field":"y","type":"quantitative","scale":{"type":"log","domain":[0.3,1.5],"nice":false},
   "axis":{"orient":"right","values":[0.4,0.5,0.6,0.7,0.8,0.9,1],"labels":false,"tickSize":{"condition":{"test":"indexof([0.5,1],datum.value)>=0","value":-8},"value":-4},"tickColor":"#333333","tickWidth":1.2,"domain":false,"grid":false,"title":null}}
 }},
{"transform":[{"filter":"indexof(datum.i,'b')==0"}],
 "mark":{"type":"line","clip":true,"stroke":"#0000ff","strokeOpacity":0.28,"strokeWidth":1.2}},
{"transform":[{"filter":"indexof(datum.i,'r')==0"}],
 "mark":{"type":"line","clip":true,"stroke":"#ff0000","strokeOpacity":0.28,"strokeWidth":1.2}}
]
}
